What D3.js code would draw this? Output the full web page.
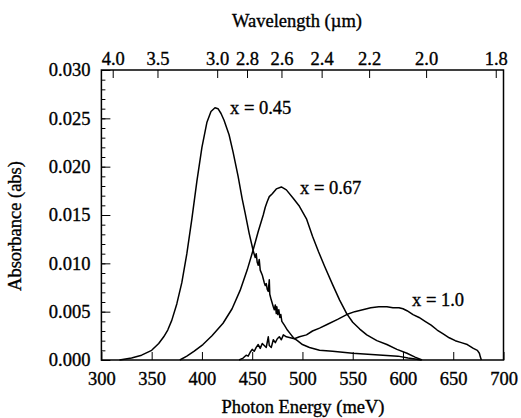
<!DOCTYPE html>
<html><head><meta charset="utf-8">
<script src="https://cdn.jsdelivr.net/npm/d3@7"></script>
<style>
html,body{margin:0;padding:0;background:#fff;}
svg text{font-family:"Liberation Serif","DejaVu Serif",serif !important;fill:#000;stroke:#000;stroke-width:0.35px;}
</style></head>
<body>
<svg id="chart" width="521" height="418"></svg>
<script>
// ---- data ----
const energyTicks = [300, 350, 400, 450, 500, 550, 600, 650, 700];
const absTicks = [0.000, 0.005, 0.010, 0.015, 0.020, 0.025, 0.030];
const absMinorTicks = d3.range(0, 0.0301, 0.001);
const wavelengthTicks = [4.0, 3.5, 3.0, 2.8, 2.6, 2.4, 2.2, 2.0, 1.8];
const hcCalib = 1247; // meV·µm, as drawn on the original top axis

const seriesLabels = ["x = 0.45", "x = 0.67", "x = 1.0"];

const x045 = [[318,0],[330,0.0002],[340,0.0005],[350,0.0010],[357,0.0017],[362,0.0024],[366,0.0031],[370,0.0041],[375,0.0058],[380,0.0080],[385,0.0110],[390,0.0146],[395,0.0185],[400,0.0220],[405,0.0246],[409,0.0257],[413,0.0261],[416,0.0260],[419,0.0255],[422,0.0248],[427,0.0233],[431,0.0215],[436,0.0190],[440,0.0167],[443,0.0152],[447,0.0131],[451,0.0113],[453,0.0106],[454,0.0110],[455,0.0101],[456,0.0098],[457,0.0104],[458,0.0093],[460,0.0088],[461,0.0084],[462,0.0080],[463,0.0077],[464,0.0079],[465,0.0073],[466,0.0071],[467,0.0083],[467.5,0.0068],[469,0.0062],[471,0.0055],[472,0.0052],[473,0.0057],[474,0.0048],[474.5,0.0055],[475.5,0.0047],[476.5,0.0052],[477.5,0.0044],[478.5,0.0047],[479.5,0.0040],[482,0.0036],[485,0.0031],[488,0.0027],[491,0.0023],[495,0.0020],[500,0.0016],[507,0.0013],[517,0.0010],[530,0.0009],[550,0.0007],[565,0.0006],[580,0.0005],[595,0.0004],[605,0.0002],[612,0.0001],[618,0]];

const x067 = [[378,0],[385,0.0004],[392,0.0009],[401,0.0016],[410,0.0025],[421,0.0038],[430,0.0053],[438,0.0072],[445,0.0093],[451,0.0114],[456,0.0133],[461,0.0150],[463,0.0158],[465,0.0164],[467,0.0169],[470,0.0172],[474,0.0177],[479,0.0179],[484,0.0176],[491,0.0167],[497,0.0159],[504,0.0146],[510,0.0128],[516,0.0112],[522,0.0097],[530,0.0078],[537,0.0062],[544,0.0048],[550,0.0039],[557,0.0032],[564,0.0026],[574,0.0020],[584,0.0016],[594,0.0011],[604,0.0007],[612,0.0003],[619,0]];

const x100 = [[437,0],[441,0.0002],[444,0.0005],[446,0.0004],[448,0.0008],[450,0.0011],[452,0.0009],[454,0.0013],[456,0.0016],[458,0.0012],[460,0.0017],[462,0.0015],[464,0.0013],[466,0.0024],[467,0.0015],[469,0.0013],[471,0.0021],[473,0.0018],[475,0.0022],[477,0.0024],[479,0.0021],[481,0.0026],[484,0.0024],[488,0.0023],[492,0.0022],[497,0.0024],[504,0.0026],[510,0.0030],[517,0.0033],[525,0.0037],[535,0.0042],[544,0.0047],[552,0.0050],[560,0.0052],[568,0.0054],[576,0.0055],[584,0.0055],[590,0.0054],[596,0.0054],[600,0.0053],[604,0.0051],[610,0.0047],[616,0.0044],[622,0.0040],[628,0.0036],[634,0.0031],[640,0.0027],[646,0.0023],[652,0.0020],[658,0.0018],[664,0.0016],[670,0.0012],[674,0.0010],[676,0.0007],[677,0.0003],[678,0]];

// ---- drawing ----
const svg = d3.select("#chart");
const L = 101.4, R = 503.5, T = 70, B = 360;
const xS = d3.scaleLinear().domain([300, 700]).range([L, R]);
const yS = d3.scaleLinear().domain([0, 0.030]).range([B, T]);
const fs = "18.5px";
const ff = "Liberation Serif, DejaVu Serif, serif";

// curves
const line = d3.line().x(d => xS(d[0])).y(d => yS(d[1]));
[x045, x067, x100].forEach(s => {
  svg.append("path").attr("d", line(s)).attr("fill", "none")
    .attr("stroke", "#000").attr("stroke-width", 1.5).attr("stroke-linejoin", "round");
});

// bottom axis (ticks inward)
svg.append("g").attr("transform", `translate(0,${B})`)
  .call(d3.axisBottom(xS).tickValues(energyTicks).tickSize(-8).tickPadding(12).tickFormat(d3.format("d")));

// left axis major + minor
svg.append("g").attr("transform", `translate(${L},0)`)
  .call(d3.axisLeft(yS).tickValues(absMinorTicks).tickSize(-4).tickFormat(""));
svg.append("g").attr("transform", `translate(${L},0)`)
  .call(d3.axisLeft(yS).tickValues(absTicks).tickSize(-9).tickPadding(11).tickFormat(d3.format(".3f")));

// top wavelength axis drawn via energy scale
const topG = svg.append("g");
wavelengthTicks.forEach(w => {
  const xp = xS(hcCalib / w);
  topG.append("line").attr("x1", xp).attr("x2", xp).attr("y1", T).attr("y2", T + 8)
    .attr("stroke", "#000").attr("stroke-width", 1);
  topG.append("text").attr("x", xp).attr("y", T - 5).attr("text-anchor", "middle")
    .text(d3.format(".1f")(w));
});

// frame
svg.append("rect").attr("x", L).attr("y", T).attr("width", R - L).attr("height", B - T)
  .attr("fill", "none").attr("stroke", "#000").attr("stroke-width", 1.5);
svg.selectAll(".domain").remove();
svg.selectAll(".tick line").attr("stroke", "#000").attr("stroke-width", 1);

// series labels
const labelPos = [[230, 114], [300, 194], [412, 306]];
seriesLabels.forEach((t, i) => {
  svg.append("text").attr("x", labelPos[i][0]).attr("y", labelPos[i][1]).text(t);
});

// titles
svg.append("text").attr("x", 297).attr("y", 27).attr("text-anchor", "middle")
  .text("Wavelength (µm)");
svg.append("text").attr("x", 303).attr("y", 413).attr("text-anchor", "middle")
  .text("Photon Energy (meV)");
svg.append("text").attr("transform", "translate(21,226) rotate(-90)").attr("text-anchor", "middle")
  .text("Absorbance (abs)");

svg.selectAll("g").attr("font-family", null).attr("font-size", null);
svg.selectAll("text").attr("font-family", ff).style("font-family", ff).style("font-size", fs).attr("fill", "#000");
</script>
</body></html>
